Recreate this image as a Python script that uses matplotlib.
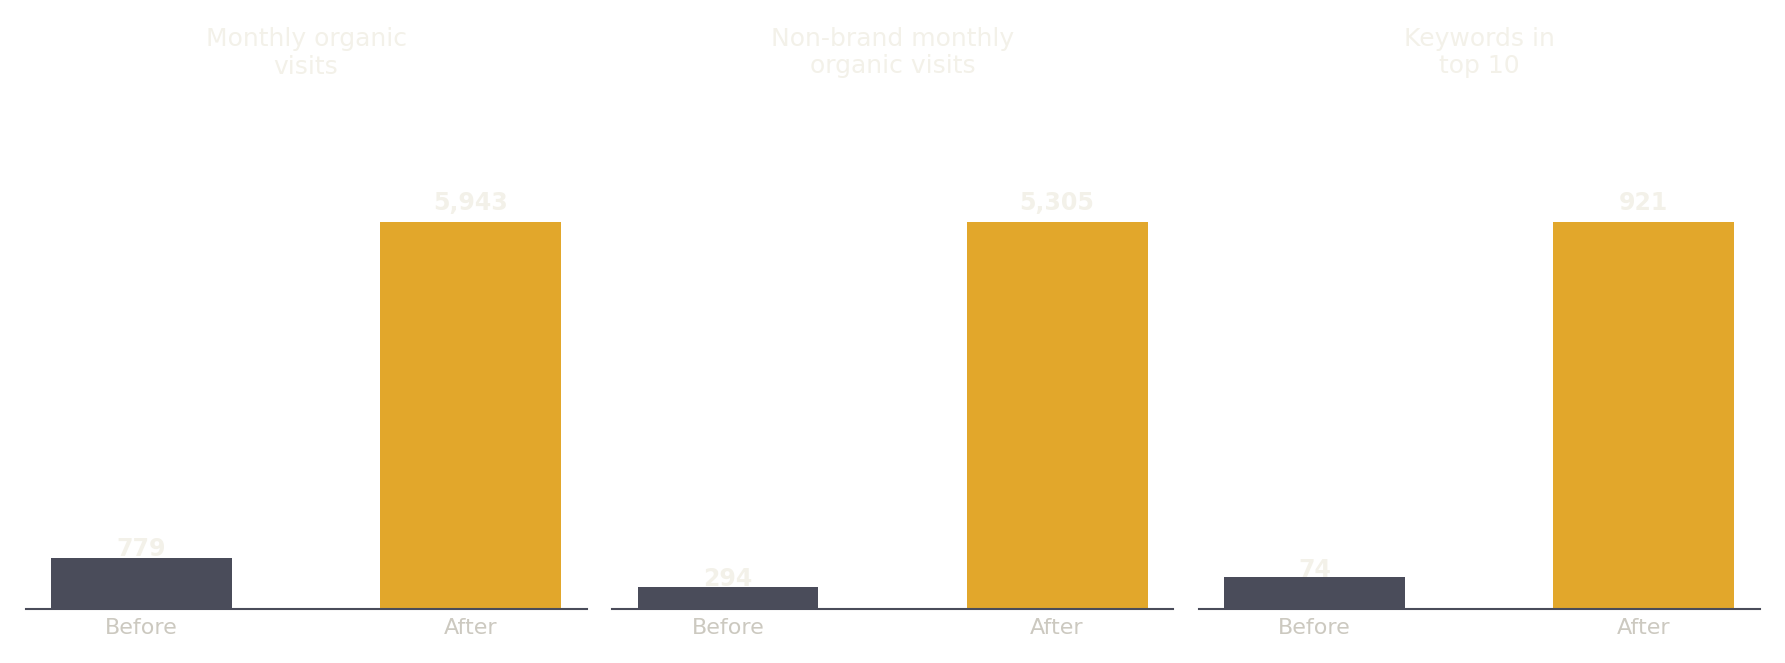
import matplotlib.pyplot as plt

# données
titres = ["Monthly organic\nvisits", "Non-brand monthly\norganic visits", "Keywords in\ntop 10"]
categories = ["Before", "After"]
avant = [779, 294, 74]
apres = [5943, 5305, 921]

c_avant = "#4a4c5a"
c_apres = "#e2a72b"
c_titre = "#f3f1e9"
c_ticks = "#ccc9c0"

W, H = 1785, 663
fig = plt.figure(figsize=(W/100, H/100), dpi=100)

gauche = 25.5
largeur = 561
pas = 586.5
bas = 608.5
haut = 202.7

for k in range(3):
    ax = fig.add_axes([(gauche + k*pas)/W, (H - bas)/H, largeur/W, (bas - haut)/H])
    vals = [avant[k], apres[k]]
    ax.bar(categories, vals, width=0.55, color=[c_avant, c_apres])
    for i, v in enumerate(vals):
        ax.text(i, v*1.03, f"{v:,}", ha='center', va='baseline',
                fontsize=17, fontweight='bold', color=c_titre)
    ax.set_title(titres[k], fontsize=18, color=c_titre, va='bottom',
                 pad=(haut - 78.5)*0.72)
    for s in ['top', 'right', 'left']:
        ax.spines[s].set_visible(False)
    ax.spines['bottom'].set_color(c_avant)
    ax.spines['bottom'].set_linewidth(1.5)
    ax.set_yticks([])
    ax.tick_params(axis='x', length=0, pad=7, labelsize=16, labelcolor=c_ticks)

fig.savefig("out.png", dpi=100)
